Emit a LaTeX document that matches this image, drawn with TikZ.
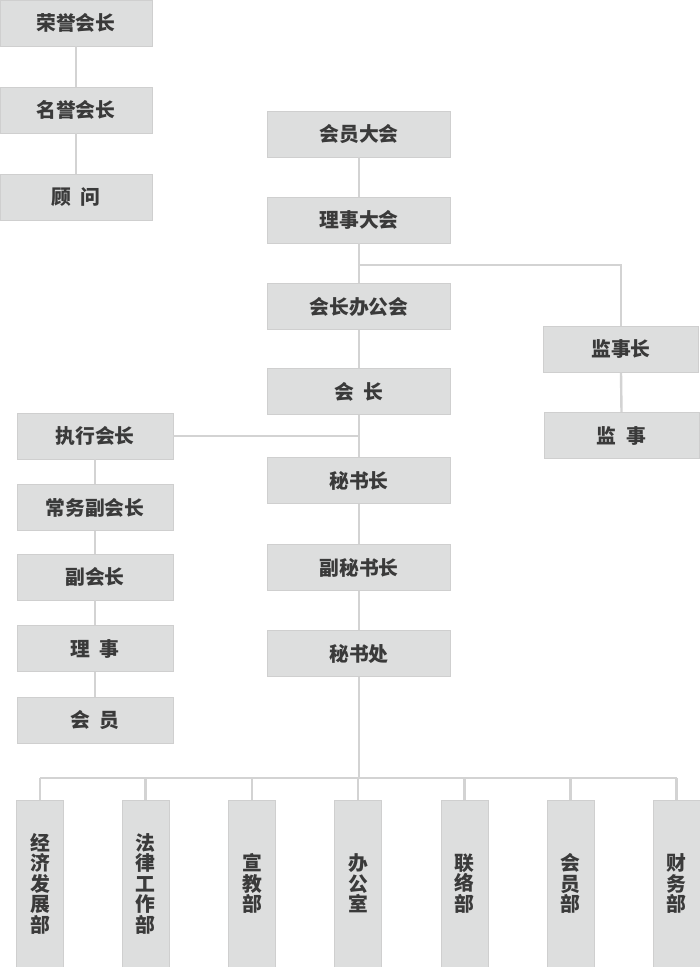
\documentclass[tikz,border=0pt]{standalone}
\usepackage{fontspec}
\newfontfamily\cjk{Noto Sans CJK SC}
\definecolor{boxfill}{HTML}{DDDEDE}
\definecolor{boxedge}{HTML}{CFCFCF}
\definecolor{linkcol}{HTML}{D3D3D3}
\definecolor{txt}{HTML}{3A3A3A}
\tikzset{
  orgbox/.style={fill=boxfill, draw=boxedge, line width=0.8pt, inner sep=0pt,
    minimum height=46pt, text=txt, font={\cjk\bfseries\fontsize{19.8}{20.5}\selectfont}},
  vbox/.style={orgbox, minimum width=47pt, minimum height=167pt, align=center, text width=21pt},
  link/.style={draw=linkcol, line width=2.4pt}
}
\newcommand{\gap}{\hspace{0.5em}}
\begin{document}
\begin{tikzpicture}[x=1pt,y=-1pt]
\useasboundingbox (0,0) rectangle (700,967);
\coordinate (b1) at (359,265);
\coordinate (b3) at (359,778);
% top-left
\node[orgbox, minimum width=152pt] (ry) at (76,23) {荣誉会长};
\node[orgbox, minimum width=152pt] (my) at (76,110) {名誉会长};
\node[orgbox, minimum width=152pt] (gw) at (76,197) {顾\gap 问};
% center column
\node[orgbox, minimum width=183pt] (hydh) at (359,134) {会员大会};
\node[orgbox, minimum width=183pt] (lsdh) at (359,220) {理事大会};
\node[orgbox, minimum width=183pt] (hzbg) at (359,306.5) {会长办公会};
\node[orgbox, minimum width=183pt] (hz) at (359,391.5) {会\gap 长};
\node[orgbox, minimum width=183pt] (msz) at (359,480.5) {秘书长};
\node[orgbox, minimum width=183pt] (fmsz) at (359,567.5) {副秘书长};
\node[orgbox, minimum width=183pt] (msc) at (359,653.5) {秘书处};
% right
\node[orgbox, minimum width=155pt] (jsz) at (621,349) {监事长};
\node[orgbox, minimum width=155pt] (js) at (621.5,435.5) {监\gap 事};
% left
\node[orgbox, minimum width=156pt] (zx) at (95,436) {执行会长};
\node[orgbox, minimum width=156pt] (cw) at (95,507.5) {常务副会长};
\node[orgbox, minimum width=156pt] (fhz) at (95,577) {副会长};
\node[orgbox, minimum width=156pt] (ls) at (95,648.5) {理\gap 事};
\node[orgbox, minimum width=156pt] (hy) at (95,720) {会\gap 员};
% bottom departments
\node[vbox] (d1) at (40,883.5) {经\\济\\发\\展\\部};
\node[vbox] (d2) at (145.5,883.5) {法\\律\\工\\作\\部};
\node[vbox] (d3) at (252,883.5) {宣\\教\\部};
\node[vbox] (d4) at (358,883.5) {办\\公\\室};
\node[vbox] (d5) at (464.5,883.5) {联\\络\\部};
\node[vbox] (d6) at (570.5,883.5) {会\\员\\部};
\node[vbox] (d7) at (676.5,883.5) {财\\务\\部};
% connectors
\path[link] (ry.south) -- (my.north);
\path[link] (my.south) -- (gw.north);
\path[link] (hydh.south) -- (lsdh.north);
\path[link] (lsdh.south) -- (hzbg.north);
\path[link] (hzbg.south) -- (hz.north);
\path[link] (hz.south) -- (msz.north);
\path[link] (msz.south) -- (fmsz.north);
\path[link] (fmsz.south) -- (msc.north);
\path[link] (b1) -| (jsz.north);
\path[link] (jsz.south) -- (js.north);
\path[link] (zx.east) -- (zx.east -| hz.south);
\path[link] (zx.south) -- (cw.north);
\path[link] (cw.south) -- (fhz.north);
\path[link] (fhz.south) -- (ls.north);
\path[link] (ls.south) -- (hy.north);
\path[link] (msc.south) -- (b3);
\path[link] (d1.north |- b3) -- (d7.north |- b3);
\foreach \d in {d1,d2,d3,d4,d5,d6,d7} {
  \path[link] (\d.north |- b3) -- (\d.north);
}
\end{tikzpicture}
\end{document}
